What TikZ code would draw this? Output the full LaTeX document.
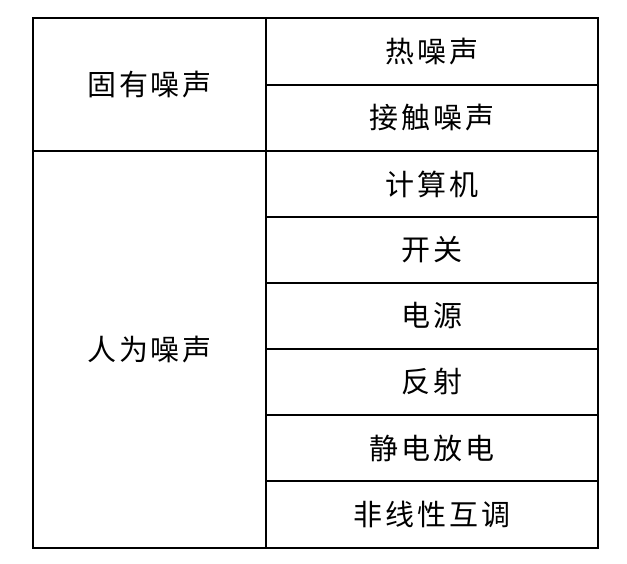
\documentclass[tikz,border=0pt]{standalone}
\usepackage{fontspec}
\setmainfont{Noto Sans CJK SC}[LetterSpace=10]
\begin{document}
\begin{tikzpicture}[
    x=1pt, y=-1pt,
    every node/.style={font=\fontsize{29}{34}\selectfont},
    grid/.style={line width=1.4pt},
    frame/.style={line width=2pt}
]
    \useasboundingbox (0,0) rectangle (627,564);

    % Draw table lines
    \draw[frame] (33,18) rectangle (598,548);
    \draw[grid] (266,18) -- (266,548);
    \draw[grid] (33,151) -- (598,151);
    \foreach \y in {85,217,283,349,415,481}
        \draw[grid] (266,\y) -- (598,\y);

    % Draw cells
    \node (inherent) at (149.5,84.5) {固有噪声};
    \node (manmade) at (149.5,349.5) {人为噪声};
    \node (thermal) at (432,51.5) {热噪声};
    \node (contact) at (432,118) {接触噪声};
    \node (computer) at (432,184) {计算机};
    \node (switch) at (432,250) {开关};
    \node (power) at (432,316) {电源};
    \node (reflect) at (432,382) {反射};
    \node (esd) at (432,448) {静电放电};
    \node (intermod) at (432,514.5) {非线性互调};

\end{tikzpicture}
\end{document}
